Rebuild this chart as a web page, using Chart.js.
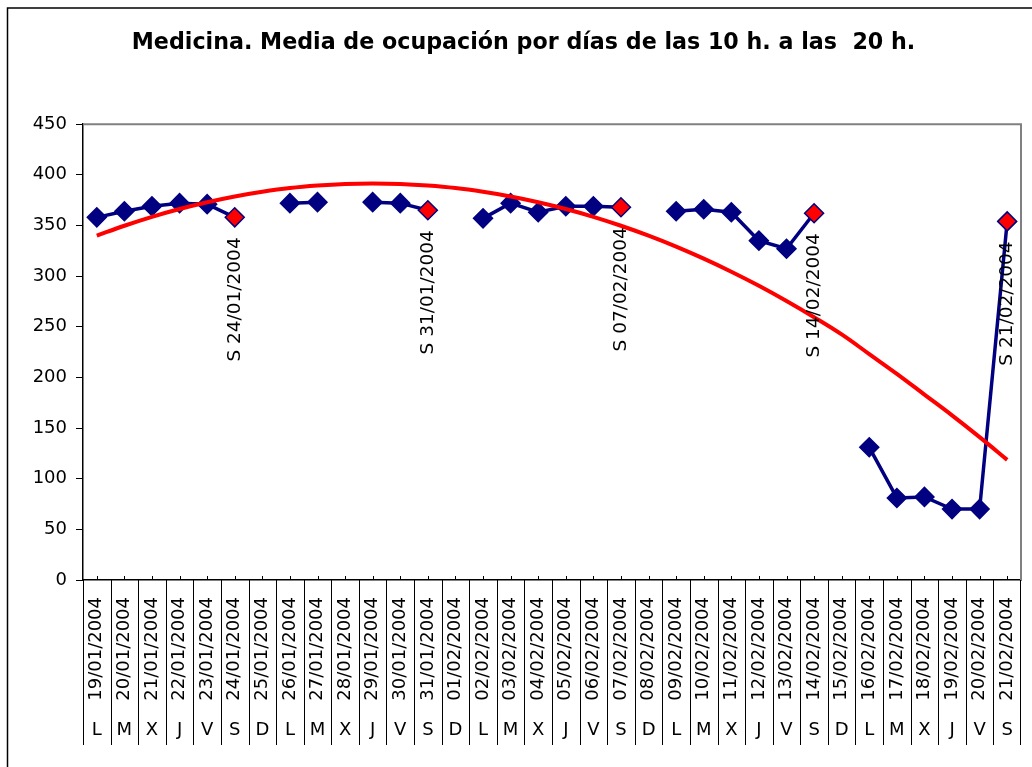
<!DOCTYPE html>
<html>
<head>
<meta charset="utf-8">
<style>
  html, body { margin: 0; padding: 0; background: #fff; }
  #wrap { width: 1032px; height: 767px; position: relative; }
</style>
<script src="https://cdn.jsdelivr.net/npm/chart.js@4/dist/chart.umd.min.js"></script>
</head>
<body>
<div id="wrap"><canvas id="c" width="1032" height="767"></canvas></div>
<script>
const chartTitle = 'Medicina. Media de ocupación por días de las 10 h. a las  20 h.';

const dates = ['19/01/2004','20/01/2004','21/01/2004','22/01/2004','23/01/2004','24/01/2004','25/01/2004',
  '26/01/2004','27/01/2004','28/01/2004','29/01/2004','30/01/2004','31/01/2004','01/02/2004',
  '02/02/2004','03/02/2004','04/02/2004','05/02/2004','06/02/2004','07/02/2004','08/02/2004',
  '09/02/2004','10/02/2004','11/02/2004','12/02/2004','13/02/2004','14/02/2004','15/02/2004',
  '16/02/2004','17/02/2004','18/02/2004','19/02/2004','20/02/2004','21/02/2004'];

const days = ['L','M','X','J','V','S','D','L','M','X','J','V','S','D','L','M','X','J','V','S','D',
  'L','M','X','J','V','S','D','L','M','X','J','V','S'];

const ocupacion = [358,364,369,372,371,358,null,372,373,null,373,372,365,null,
  357,372,363,369,369,368,null,364,366,363,335,327,362,null,131,81,82,70,70,354];

const tendencia = [339.9,349.7,358.5,366.2,372.9,378.6,383.2,386.9,389.4,391.0,391.5,391.0,389.4,386.9,
  383.2,378.6,372.9,366.2,358.5,349.7,339.9,329.1,317.2,304.3,290.4,275.4,259.4,242.4,
  223.0,203.5,183.0,162.5,141.0,118.6];

const yMin = 0, yMax = 450, yStep = 50;

const NAVY = '#000080';
const RED = '#FF0000';
const FONT = 'DejaVu Sans';

const pointFill = days.map((d, i) => (d === 'S' && ocupacion[i] !== null) ? RED : NAVY);

const decor = {
  id: 'decor',
  beforeDraw(chart) {
    const ctx = chart.ctx;
    ctx.save();
    ctx.fillStyle = '#fff';
    ctx.fillRect(0, 0, chart.width, chart.height);
    ctx.strokeStyle = '#000';
    ctx.lineWidth = 1.5;
    ctx.beginPath();
    ctx.moveTo(7.5, chart.height + 5);
    ctx.lineTo(7.5, 8);
    ctx.lineTo(chart.width + 5, 8);
    ctx.stroke();
    ctx.restore();
  },
  beforeDatasetsDraw(chart) {
    const ctx = chart.ctx, ca = chart.chartArea;
    ctx.save();
    ctx.strokeStyle = '#808080';
    ctx.lineWidth = 2;
    ctx.beginPath();
    ctx.moveTo(ca.left, ca.top);
    ctx.lineTo(ca.right, ca.top);
    ctx.lineTo(ca.right, ca.bottom);
    ctx.stroke();
    ctx.restore();
  },
  afterDraw(chart) {
    const ctx = chart.ctx, ca = chart.chartArea;
    const xs = chart.scales.x, ys = chart.scales.y;
    const n = dates.length;
    ctx.save();
    ctx.strokeStyle = '#000';
    ctx.lineWidth = 1;
    ctx.beginPath();
    for (let i = 0; i < n; i++) {
      const px = Math.round(xs.getPixelForValue(i)) + 0.5;
      ctx.moveTo(px, ca.bottom - 4);
      ctx.lineTo(px, ca.bottom);
    }
    ctx.stroke();
    ctx.beginPath();
    for (let i = 0; i <= n; i++) {
      let bx;
      if (i === 0) bx = ca.left;
      else if (i === n) bx = ca.right - 1;
      else bx = (xs.getPixelForValue(i - 1) + xs.getPixelForValue(i)) / 2;
      bx = Math.round(bx) + 0.5;
      ctx.moveTo(bx, ca.bottom);
      ctx.lineTo(bx, 745);
    }
    ctx.stroke();
    ctx.fillStyle = '#000';
    ctx.font = '18px "' + FONT + '"';
    ctx.textAlign = 'center';
    ctx.textBaseline = 'middle';
    for (let i = 0; i < n; i++) {
      ctx.fillText(days[i], xs.getPixelForValue(i), 730);
    }
    ctx.font = '18.5px "' + FONT + '"';
    ctx.textAlign = 'right';
    ctx.textBaseline = 'middle';
    for (let i = 0; i < n; i++) {
      if (days[i] === 'S' && ocupacion[i] !== null) {
        const px = xs.getPixelForValue(i);
        const py = ys.getPixelForValue(ocupacion[i]);
        ctx.save();
        ctx.translate(px, py + 20);
        ctx.rotate(-Math.PI / 2);
        ctx.fillText('S ' + dates[i], 0, 0);
        ctx.restore();
      }
    }
    ctx.restore();
  }
};

new Chart(document.getElementById('c'), {
  type: 'line',
  data: {
    labels: dates,
    datasets: [
      {
        label: 'Tendencia',
        data: tendencia,
        borderColor: RED,
        borderWidth: 4,
        pointRadius: 0,
        pointHoverRadius: 0,
        tension: 0.4,
        fill: false
      },
      {
        label: 'Ocupación',
        data: ocupacion,
        borderColor: NAVY,
        borderWidth: 3.5,
        pointStyle: 'rectRot',
        pointRadius: 9.5,
        pointHoverRadius: 9.5,
        pointBackgroundColor: pointFill,
        pointBorderColor: NAVY,
        pointBorderWidth: 1.5,
        spanGaps: false,
        tension: 0,
        fill: false
      }
    ]
  },
  options: {
    responsive: false,
    animation: false,
    devicePixelRatio: 1,
    events: [],
    layout: { padding: { left: 25, right: 10, top: 0, bottom: 0 } },
    plugins: {
      legend: { display: false },
      tooltip: { enabled: false },
      title: {
        display: true,
        text: chartTitle,
        color: '#000',
        font: { family: FONT, size: 22.2, weight: 'bold' },
        padding: { top: 29.5, bottom: 68 }
      }
    },
    scales: {
      x: {
        type: 'category',
        offset: true,
        grid: { display: false, drawTicks: false },
        border: { display: true, color: '#000', width: 1.5 },
        ticks: {
          autoSkip: false,
          maxRotation: 90,
          minRotation: 90,
          color: '#000',
          font: { family: FONT, size: 18 },
          padding: 17
        },
        afterFit(scale) {
          scale.height = 187;
          scale.paddingLeft = 0;
          scale.paddingRight = 0;
        }
      },
      y: {
        min: yMin,
        max: yMax,
        grid: { drawOnChartArea: false, drawTicks: true, tickLength: 7, color: '#000', lineWidth: 1 },
        border: { display: true, color: '#000', width: 1.5 },
        ticks: {
          stepSize: yStep,
          color: '#000',
          font: { family: FONT, size: 18 },
          padding: 9
        },
        afterFit(scale) { scale.width = 58; }
      }
    }
  },
  plugins: [decor]
});
</script>
</body>
</html>
